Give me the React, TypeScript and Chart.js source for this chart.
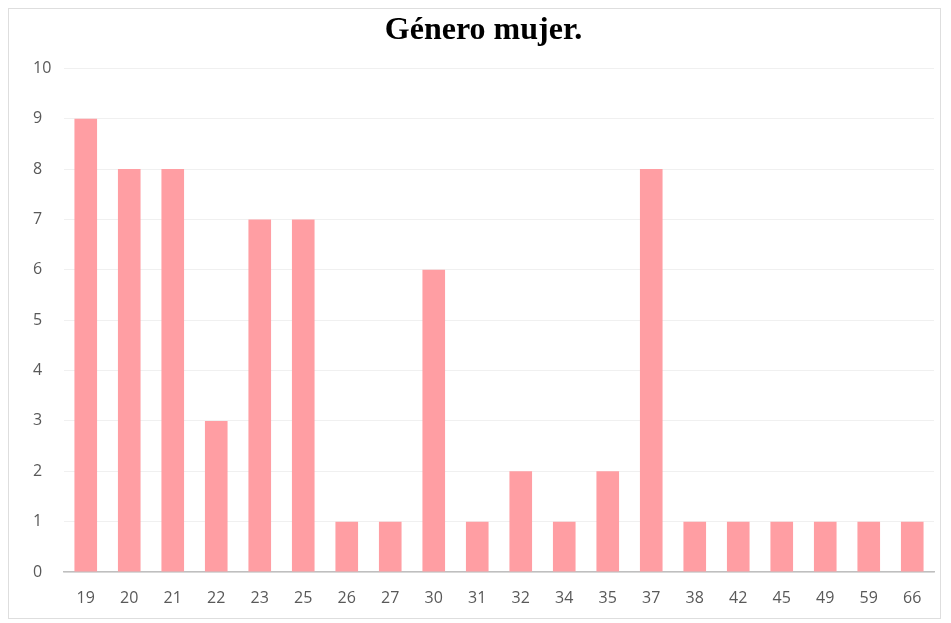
import React, { useEffect, useRef } from "react";
import { Chart, registerables } from "chart.js";

Chart.register(...registerables);

const titleText = "Género mujer.";
const categories = ["19", "20", "21", "22", "23", "25", "26", "27", "30", "31", "32", "34", "35", "37", "38", "42", "45", "49", "59", "66"];
const counts = [9, 8, 8, 3, 7, 7, 1, 1, 6, 1, 2, 1, 2, 8, 1, 1, 1, 1, 1, 1];
const yTicks = [0, 1, 2, 3, 4, 5, 6, 7, 8, 9, 10];

export default function App() {
  const ref = useRef<HTMLCanvasElement | null>(null);
  useEffect(() => {
    if (!ref.current) return;
    const chart = new Chart(ref.current, {
      type: "bar",
      data: {
        labels: categories,
        datasets: [
          {
            data: counts,
            backgroundColor: "rgb(255,158,163)",
            borderWidth: 0,
            barPercentage: 0.52,
            categoryPercentage: 1,
          },
        ],
      },
      options: {
        animation: false,
        responsive: false,
        layout: { padding: { left: 24, right: 6, top: 0, bottom: 9 } },
        plugins: {
          legend: { display: false },
          tooltip: { enabled: false },
          title: {
            display: true,
            text: titleText,
            color: "#000",
            font: { family: "'Liberation Serif', 'Times New Roman', serif", size: 32, weight: "bold" },
            padding: { top: 3, bottom: 18 },
          },
        },
        scales: {
          x: {
            afterFit: (scale: any) => {
              scale.height = 37;
            },
            grid: { display: false, drawTicks: false },
            border: { display: true, color: "#bfbfbf", width: 1.5 },
            ticks: {
              color: "#595959",
              font: { family: "'Open Sans', 'Noto Sans', sans-serif", size: 16 },
              padding: 17,
              maxRotation: 0,
              autoSkip: false,
            },
          },
          y: {
            min: 0,
            max: 10,
            afterBuildTicks: (scale: any) => {
              scale.ticks = yTicks.map((v) => ({ value: v }));
            },
            afterFit: (scale: any) => {
              scale.width = 31;
            },
            grid: { color: "#f0f0f0", drawTicks: false, lineWidth: 1 },
            border: { display: false },
            ticks: {
              color: "#595959",
              font: { family: "'Open Sans', 'Noto Sans', sans-serif", size: 16 },
              crossAlign: "far",
              padding: 0,
            },
          },
        },
      },
    });
    return () => chart.destroy();
  }, []);
  return (
    <div
      style={{
        width: 933,
        height: 611,
        border: "1px solid #dedede",
        boxSizing: "border-box",
        background: "#fff",
      }}
    >
      <canvas ref={ref} width={931} height={609} style={{ display: "block" }} />
    </div>
  );
}
